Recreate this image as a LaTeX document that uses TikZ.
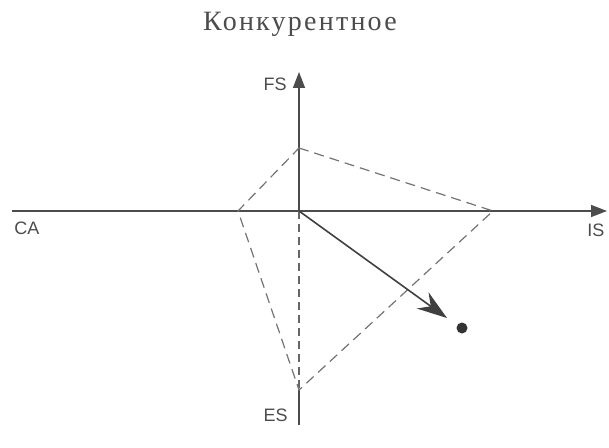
\documentclass[tikz,border=0pt]{standalone}
\usepackage{fontspec}
\setmainfont{Liberation Serif}
\setsansfont{Liberation Sans}
\newfontfamily\titlefont[LetterSpace=8]{Liberation Serif}
\usetikzlibrary{arrows.meta}
\tikzset{
  axis/.style={draw=black!70, line width=0.7pt},
  axisdash/.style={draw=black!60, line width=0.7pt, dash pattern=on 4pt off 2.5pt},
  quad/.style={draw=black!55, line width=0.6pt, dash pattern=on 5pt off 3pt},
  vec/.style={draw=black!75, line width=0.8pt, -{Stealth[length=15pt,width=10pt,inset=5pt]}},
  lbl/.style={font=\sffamily\fontsize{9}{11}\selectfont, text=black!70, inner sep=0pt},
  ttl/.style={font=\titlefont\fontsize{14}{16}\selectfont, text=black!70, inner sep=0pt},
  dotst/.style={circle, fill=black!80, minimum size=5.5pt, inner sep=0pt}
}
\begin{document}
\begin{tikzpicture}[x=0.5pt,y=-0.5pt]
\useasboundingbox (0,0) rectangle (609,448);
% axes
\coordinate (O) at (299,211);
\coordinate (top) at (299,72);
\coordinate (bot) at (299,425);
\coordinate (left) at (12,211);
\coordinate (right) at (607,211);
% quadrilateral vertices
\coordinate (A) at (299,148);
\coordinate (B) at (493,211);
\coordinate (C) at (299,390);
\coordinate (D) at (238,211);
\coordinate (P) at (447,318);

\node[ttl] (title) at (300,24) {Конкурентное};
\node[lbl, anchor=east] (FS) at (287,84) {FS};
\node[lbl, anchor=west] (CA) at (14,228) {CA};
\node[lbl, anchor=west] (IS) at (587,230) {IS};
\node[lbl, anchor=east] (ES) at (288,415) {ES};
\node[dotst] (dot) at (462,328) {};

\draw[axis] (left) -- (O);
\draw[axis, -{Triangle[length=8pt,width=6pt]}] (O) -- (right);
\draw[axis, -{Triangle[length=8pt,width=6pt]}] (O) -- (top);
\draw[axisdash] (O) -- (C);
\draw[axis] (C) -- (bot);

\draw[quad] (A) -- (B) -- (C) -- (D) -- cycle;
\draw[vec] (O) -- (P);
\end{tikzpicture}
\end{document}
